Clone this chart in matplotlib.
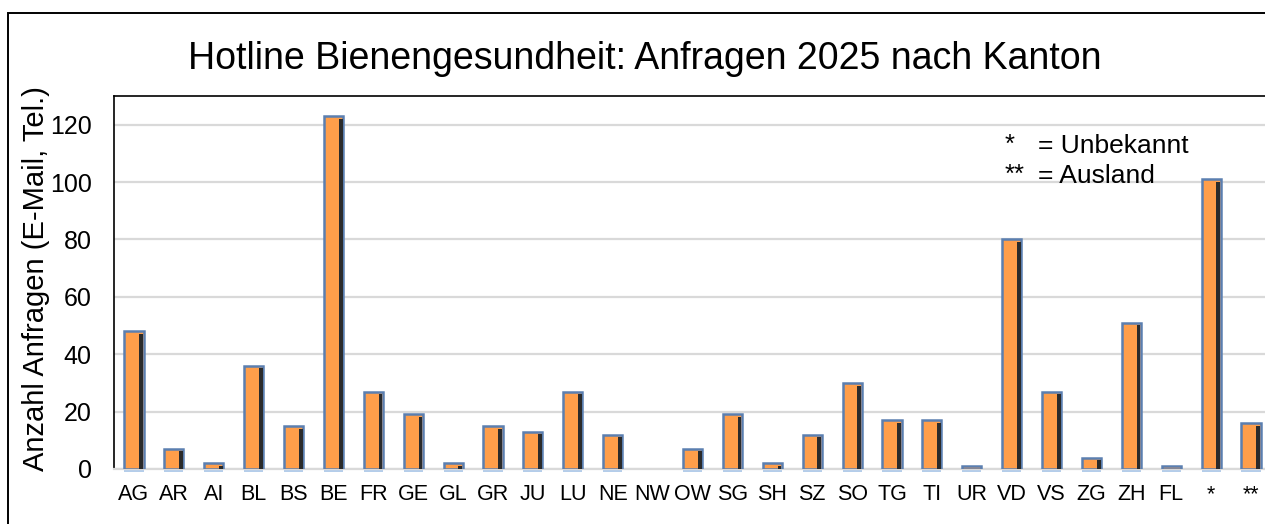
import matplotlib.pyplot as plt
from matplotlib.patches import Rectangle

plt.rcParams['font.family'] = ['Liberation Sans', 'DejaVu Sans']

kantone = ['AG', 'AR', 'AI', 'BL', 'BS', 'BE', 'FR', 'GE', 'GL', 'GR', 'JU', 'LU', 'NE', 'NW',
           'OW', 'SG', 'SH', 'SZ', 'SO', 'TG', 'TI', 'UR', 'VD', 'VS', 'ZG', 'ZH', 'FL', '*', '**']
anfragen = [48, 7, 2, 36, 15, 123, 27, 19, 2, 15, 13, 27, 12, 0,
            7, 19, 2, 12, 30, 17, 17, 1, 80, 27, 4, 51, 1, 101, 16]

W, H = 1265, 524
fig = plt.figure(figsize=(W / 100, H / 100), dpi=100)
ax = fig.add_axes([114 / W, 1 - 469 / H, 1157 / W, 373 / H])

x = list(range(len(kantone)))
bw = 0.48

# baseline "reflection" under each bar
ax.bar(x, [0.9 if v > 0 else 0 for v in anfragen], width=bw, bottom=-0.9,
       color='#b4cdea', zorder=2, clip_on=False)
# main bars
edges = ['#5b7fb0' if v > 0 else 'none' for v in anfragen]
ax.bar(x, anfragen, width=bw, color='#ff9e4a', edgecolor=edges, linewidth=1.8, zorder=3)
# dark shadow on right side of bars
sh = 0.095
ax.bar([i + bw / 2 - sh / 2 - 0.012 for i in x], [max(v - 0.9, 0) for v in anfragen],
       width=sh, color='#2b2b2b', linewidth=0, zorder=4)

ax.set_xlim(-0.5, len(kantone) - 0.5)
ax.set_ylim(0, 130)
ax.set_yticks(range(0, 121, 20))
ax.set_xticks(x)
ax.set_xticklabels(kantone)
ax.tick_params(axis='y', length=0, labelsize=18, pad=16)
ax.tick_params(axis='x', length=0, labelsize=15.5, pad=11)
ax.grid(axis='y', color='#d9d9d9', linewidth=1.6, zorder=0)
ax.set_axisbelow(True)

for s in ['top', 'left']:
    ax.spines[s].set_color('black')
    ax.spines[s].set_linewidth(1.2)
ax.spines['right'].set_visible(False)
ax.spines['bottom'].set_color('#d9d9d9')
ax.spines['bottom'].set_linewidth(1.6)

ax.set_ylabel('Anzahl Anfragen (E-Mail, Tel.)', fontsize=21)
ax.yaxis.set_label_coords((50 - 114) / 1157, 0.51)

fig.text(0.51, 1 - 59 / H, 'Hotline Bienengesundheit: Anfragen 2025 nach Kanton',
         ha='center', va='center', fontsize=27)

fig.text(1005 / W, 1 - 145 / H, '*', ha='left', va='center', fontsize=18.5)
fig.text(1038 / W, 1 - 146 / H, '= Unbekannt', ha='left', va='center', fontsize=19)
fig.text(1005 / W, 1 - 175 / H, '**', ha='left', va='center', fontsize=18.5)
fig.text(1038 / W, 1 - 176 / H, '= Ausland', ha='left', va='center', fontsize=19)

# outer frame
fig.patches.append(Rectangle((8 / W, -0.1), 1.2, 1 - 13 / H + 0.1, transform=fig.transFigure,
                             fill=False, edgecolor='black', linewidth=1.4))

fig.savefig('out.png', dpi=100)
